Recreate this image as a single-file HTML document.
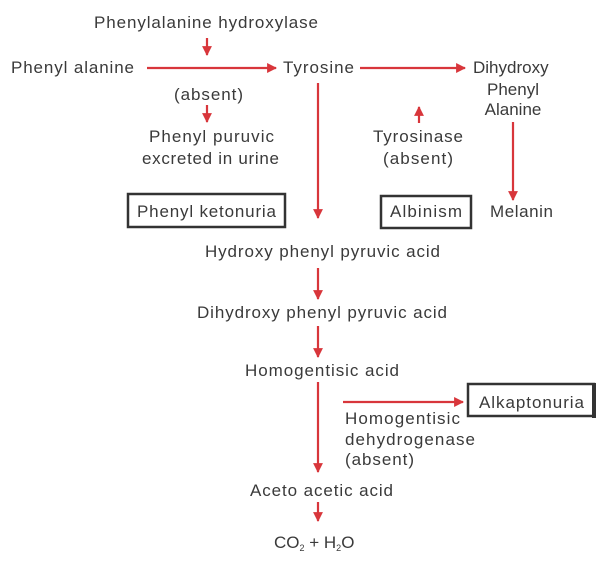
<!DOCTYPE html>
<html><head><meta charset="utf-8"><style>
html,body{margin:0;padding:0;background:#fff;}
svg{display:block;}
text{font-family:"Liberation Sans",sans-serif;font-size:17px;fill:#3a3a3a;}
</style></head><body>
<svg width="602" height="561" viewBox="0 0 602 561" xmlns="http://www.w3.org/2000/svg">
<defs>
<marker id="a" viewBox="0 0 10 10" refX="9" refY="5" markerWidth="4.5" markerHeight="4.5" orient="auto"><path d="M0,0 L10,5 L0,10 z" fill="#d8363b"/></marker>
</defs>
<g stroke="#d8363b" stroke-width="2.2" fill="none" marker-end="url(#a)">
<line x1="207" y1="38" x2="207" y2="55"/>
<line x1="147" y1="68" x2="276" y2="68"/>
<line x1="360" y1="68" x2="465" y2="68"/>
<line x1="207" y1="105" x2="207" y2="122"/>
<line x1="318" y1="83" x2="318" y2="218"/>
<line x1="419" y1="123" x2="419" y2="107"/>
<line x1="513" y1="122" x2="513" y2="200"/>
<line x1="318" y1="268" x2="318" y2="299"/>
<line x1="318" y1="326" x2="318" y2="357"/>
<line x1="318" y1="382" x2="318" y2="472"/>
<line x1="343" y1="402" x2="463" y2="402"/>
<line x1="318" y1="502" x2="318" y2="521"/>
</g>
<g fill="none" stroke="#333" stroke-width="2.5">
<rect x="128" y="194" width="157" height="33"/>
<rect x="381" y="196" width="90" height="32"/>
<rect x="468" y="384" width="126" height="32"/>
</g>
<line x1="594" y1="383" x2="594" y2="418" stroke="#333" stroke-width="4"/>
<text x="94" y="28" textLength="224">Phenylalanine hydroxylase</text>
<text x="11" y="73" textLength="123">Phenyl alanine</text>
<text x="283" y="73" textLength="71">Tyrosine</text>
<text x="473" y="73">Dihydroxy</text>
<text x="513" y="95" text-anchor="middle">Phenyl</text>
<text x="513" y="115" text-anchor="middle">Alanine</text>
<text x="174" y="100" textLength="69">(absent)</text>
<text x="149" y="142" textLength="125">Phenyl puruvic</text>
<text x="142" y="164" textLength="137">excreted in urine</text>
<text x="373" y="142" textLength="90">Tyrosinase</text>
<text x="383" y="164" textLength="70">(absent)</text>
<text x="137" y="217" textLength="139">Phenyl ketonuria</text>
<text x="390" y="217" textLength="72">Albinism</text>
<text x="490" y="217" textLength="63">Melanin</text>
<text x="205" y="257" textLength="235">Hydroxy phenyl pyruvic acid</text>
<text x="197" y="318" textLength="250">Dihydroxy phenyl pyruvic acid</text>
<text x="245" y="376" textLength="154">Homogentisic acid</text>
<text x="479" y="408" textLength="105">Alkaptonuria</text>
<text x="345" y="424" textLength="115">Homogentisic</text>
<text x="345" y="445" textLength="130">dehydrogenase</text>
<text x="345" y="465" textLength="69">(absent)</text>
<text x="250" y="496" textLength="143">Aceto acetic acid</text>
<text x="274" y="548" font-size="18">CO<tspan font-size="9" dy="3">2</tspan><tspan dy="-3"> + H</tspan><tspan font-size="9" dy="3">2</tspan><tspan dy="-3">O</tspan></text>
</svg>
</body></html>
